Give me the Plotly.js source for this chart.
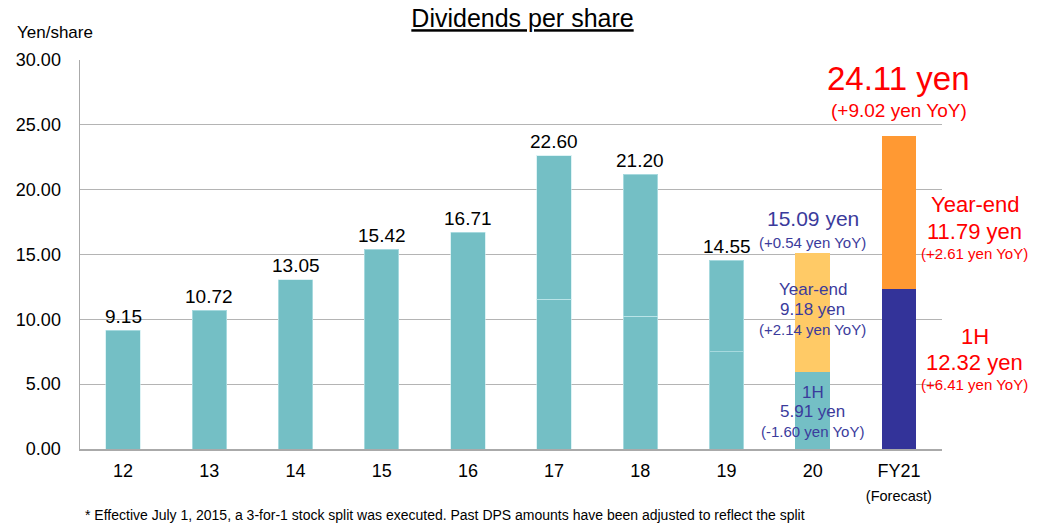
<!DOCTYPE html>
<html><head><meta charset="utf-8">
<script src="https://cdn.plot.ly/plotly-3.0.1.min.js"></script>
<style>html,body{margin:0;padding:0;background:#fff;}#chart{width:1045px;height:527px;}</style>
</head><body><div id="chart"></div>
<script>
var categories = ["12","13","14","15","16","17","18","19","20","FY21"];
var tickLabels = ["12","13","14","15","16","17","18","19","20","FY21<br><span style='font-size:14.5px'>(Forecast)</span>"];
var firstHalf = [9.15, 10.72, 13.05, 15.42, 16.71, 11.55, 10.25, 7.51, 5.91, 12.32];
var yearEnd   = [null, null, null, null, null, 11.05, 10.95, 7.04, 9.18, 11.79];
var totals    = [9.15, 10.72, 13.05, 15.42, 16.71, 22.60, 21.20, 14.55, 15.09, 24.11];
var labelled  = ["12","13","14","15","16","17","18","19"];

var TEAL = "#74BFC5", NAVY = "#333399", LORANGE = "#FFCA66", ORANGE = "#FF9933", RED = "#FF0000", TXTNAVY = "#3B3B9C";
var F = "Liberation Sans, Arial, sans-serif";

var c1 = categories.map(function(c){ return c === "FY21" ? NAVY : TEAL; });
var c2 = categories.map(function(c){ return c === "FY21" ? ORANGE : (c === "20" ? LORANGE : TEAL); });
var l1 = categories.map(function(c){ return (c === "FY21" || c === "20") ? "rgba(0,0,0,0)" : "rgba(200,235,238,0.6)"; });

var traces = [
  {type:"bar", x:categories, y:firstHalf, name:"1H", marker:{color:c1, line:{color:l1, width:1}}, hoverinfo:"y"},
  {type:"bar", x:categories, y:yearEnd, name:"Year-end", marker:{color:c2, line:{color:l1, width:1}}, hoverinfo:"y"}
];

var ann = [];
function add(x, y, text, size, color, yshift, xshift){
  ann.push({x:x, y:y, xref:"x", yref:"y", text:text, showarrow:false, xanchor:"center", yanchor:"middle", yshift:yshift, xshift:xshift||0, font:{family:F, size:size, color:color}});
}
labelled.forEach(function(c){
  var i = categories.indexOf(c);
  add(i, totals[i], totals[i].toFixed(2), 19, "#000", 14);
});
var i20 = categories.indexOf("20"), i19 = categories.indexOf("19"), i21 = categories.indexOf("FY21");
function yoy(v){ return "(" + (v >= 0 ? "+" : "") + v.toFixed(2) + " yen YoY)"; }
// FY20
add(i20, totals[i20], totals[i20].toFixed(2)+" yen", 21, TXTNAVY, 35);
add(i20, totals[i20], yoy(totals[i20]-totals[i19]), 15, TXTNAVY, 11);
var m20y = firstHalf[i20]+yearEnd[i20]/2, m20h = firstHalf[i20]/2;
add(i20, m20y, "Year-end", 17, TXTNAVY, 23);
add(i20, m20y, yearEnd[i20].toFixed(2)+" yen", 17, TXTNAVY, 3);
add(i20, m20y, yoy(yearEnd[i20]-yearEnd[i19]), 15, TXTNAVY, -17);
add(i20, m20h, "1H", 17, TXTNAVY, 18);
add(i20, m20h, firstHalf[i20].toFixed(2)+" yen", 17, TXTNAVY, -1);
add(i20, m20h, yoy(firstHalf[i20]-firstHalf[i19]), 15, TXTNAVY, -21);
// FY21
add(i21, totals[i21], totals[i21].toFixed(2)+" yen", 33, RED, 58);
add(i21, totals[i21], yoy(totals[i21]-totals[i20]), 19, RED, 26);
var m21y = firstHalf[i21]+yearEnd[i21]/2, m21h = firstHalf[i21]/2;
add(i21, m21y, "Year-end", 22, RED, 8, 76);
add(i21, m21y, yearEnd[i21].toFixed(2)+" yen", 22, RED, -19, 76);
add(i21, m21y, yoy(yearEnd[i21]-yearEnd[i20]), 15, RED, -41, 76);
add(i21, m21h, "1H", 22, RED, 33, 76);
add(i21, m21h, firstHalf[i21].toFixed(2)+" yen", 22, RED, 7, 76);
add(i21, m21h, yoy(firstHalf[i21]-firstHalf[i20]), 15, RED, -15, 76);

ann.push({xref:"paper", yref:"paper", x:-0.075, y:1.07, xanchor:"left", yanchor:"middle", text:"Yen/share", showarrow:false, font:{family:F, size:17, color:"#000"}});
ann.push({xref:"paper", yref:"paper", x:0.003, y:-0.17, xanchor:"left", yanchor:"middle", text:"* Effective July 1, 2015, a 3-for-1 stock split was executed. Past DPS amounts have been adjusted to reflect the split", showarrow:false, font:{family:F, size:14, color:"#000"}});

var layout = {
  width:1045, height:527,
  margin:{l:80, r:103, t:60, b:78},
  paper_bgcolor:"#fff", plot_bgcolor:"#fff",
  barmode:"stack", bargap:0.6, showlegend:false,
  title:{text:"<u>Dividends per share</u>", x:0.5, xref:"container", y:0.965, yanchor:"middle", font:{family:F, size:25, color:"#000"}},
  xaxis:{type:"category", range:[-0.5, 9.5], tickvals:categories, ticktext:tickLabels, tickangle:0, showgrid:false, showline:true, linecolor:"#AAAAAA", linewidth:1.5, ticks:"", tickfont:{family:F, size:18, color:"#000"}, ticklabelstandoff:5, fixedrange:true},
  yaxis:{range:[0,30], tickvals:[0,5,10,15,20,25,30], tickformat:".2f", showgrid:true, gridcolor:"#B4B4B4", gridwidth:1.2, showline:true, linecolor:"#AAAAAA", linewidth:1.5, zeroline:false, ticks:"", tickfont:{family:F, size:18, color:"#000"}, ticklabelstandoff:14, fixedrange:true},
  annotations:ann
};
Plotly.newPlot("chart", traces, layout, {displayModeBar:false, staticPlot:true});
</script></body></html>
